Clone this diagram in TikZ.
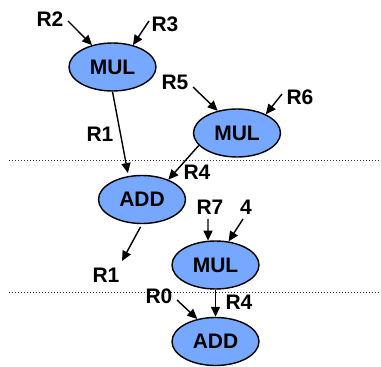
\documentclass[tikz,border=0pt]{standalone}
\usepackage{fontspec}
\setmainfont{Liberation Sans}
\usetikzlibrary{arrows.meta,shapes.geometric}
\definecolor{opfill}{RGB}{119,168,255}
\tikzset{
  op/.style={ellipse, draw=black, line width=1.4pt, fill=opfill, minimum width=87pt, minimum height=48pt, inner sep=0pt, font=\fontsize{21}{21}\selectfont\bfseries},
  lbl/.style={inner sep=0pt, font=\fontsize{21}{21}\selectfont\bfseries},
  arr/.style={line width=1.4pt, -{Triangle[length=10pt,width=9pt]}},
  sep/.style={line width=1pt, dash pattern=on 1pt off 2pt, black!80}
}
\begin{document}
\begin{tikzpicture}[x=1pt,y=-1pt]
\useasboundingbox (0,0) rectangle (381,367);
% separators
\coordinate (s1a) at (9,160); \coordinate (s1b) at (381,160);
\coordinate (s2a) at (9,292); \coordinate (s2b) at (381,292);
\draw[sep] (s1a) -- (s1b);
\draw[sep] (s2a) -- (s2b);
% operation nodes
\node[op] (mul1) at (112.5,67) {MUL};
\node[op] (mul2) at (237,133) {MUL};
\node[op] (add1) at (142,199.5) {ADD};
\node[op] (mul3) at (215.5,265) {MUL};
\node[op] (add2) at (215.5,341.5) {ADD};
% labels
\node[lbl] (r2) at (50,19) {R2};
\node[lbl] (r3) at (165,24) {R3};
\node[lbl] (r1a) at (100,134) {R1};
\node[lbl] (r5) at (175,82) {R5};
\node[lbl] (r6) at (300,97) {R6};
\node[lbl] (r4a) at (197,172) {R4};
\node[lbl] (r1b) at (106,275) {R1};
\node[lbl] (r7) at (210,207) {R7};
\node[lbl] (c4) at (246,207) {4};
\node[lbl] (r4b) at (239,302) {R4};
\node[lbl] (r0) at (159,296) {R0};
% arrow start points
\coordinate (pr2) at (68,21);
\coordinate (pr3) at (149,21);
\coordinate (pr5) at (193,87);
\coordinate (pr6) at (282,94);
\coordinate (pr7) at (208,219);
\coordinate (p4) at (243,219);
\coordinate (pr0) at (177,300);
\coordinate (er1) at (122,261);
% connectors
\draw[arr] (pr2) -- (mul1.133);
\draw[arr] (pr3) -- (mul1.47);
\draw[arr, shorten >=3pt] (mul1.south) -- (add1.120);
\draw[arr] (pr5) -- (mul2.131);
\draw[arr] (pr6) -- (mul2.33);
\draw[arr] (mul2.198) -- (add1.37);
\draw[arr, shorten <=3pt] (add1.south) -- (er1);
\draw[arr] (pr7) -- (mul3.107);
\draw[arr] (p4) -- (mul3.61);
\draw[arr] (mul3.south) -- (add2.north);
\draw[arr] (pr0) -- (add2.129);
\end{tikzpicture}
\end{document}
